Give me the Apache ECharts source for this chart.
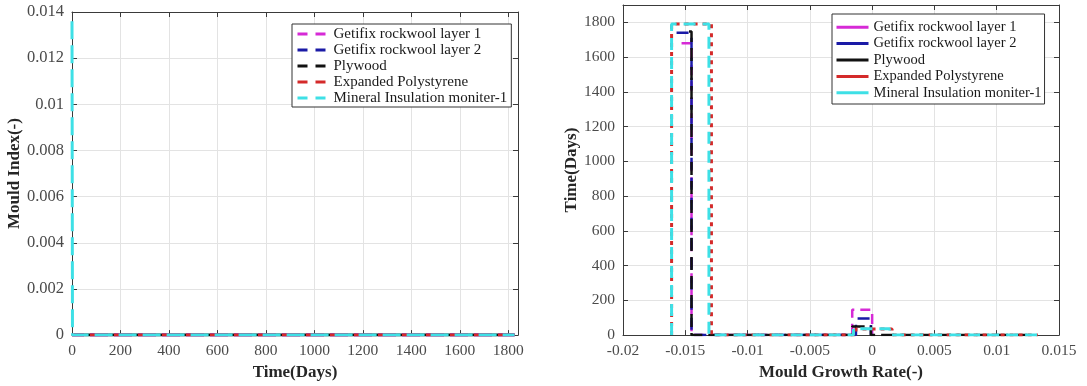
<!DOCTYPE html>
<html>
<head>
<meta charset="utf-8">
<script src="https://cdn.jsdelivr.net/npm/echarts@6/dist/echarts.min.js"></script>
<style>
  html, body { margin: 0; padding: 0; background: #fff; }
  #chart { width: 1087px; height: 386px; }
</style>
</head>
<body>
<div id="chart"></div>
<script>
// Series names shared by both panels
const seriesNames = [
  'Getifix rockwool layer 1',
  'Getifix rockwool layer 2',
  'Plywood',
  'Expanded Polystyrene',
  'Mineral Insulation moniter-1'
];
const seriesColors = ['#d62ad6', '#1a1aa6', '#111111', '#d42a2a', '#3ee0e6'];

// Left panel: mould index over time (days)
const timeMouldGetifix1 = [[0, 0], [1826, 0]];
const timeMouldGetifix2 = [[0, 0], [1826, 0]];
const timeMouldPlywood  = [[0, 0], [1826, 0]];
const timeMouldEPS      = [[0, 0], [1826, 0]];
const timeMouldMineral  = [[0, 0.0136], [2, 0], [1826, 0]];

// Right panel: number of days per mould-growth-rate bin (bin edges + day counts)
const edgesGetifix1 = [-0.0153, -0.0145, -0.0016, 0.0000];
const daysGetifix1  = [1680, 0, 146];
const edgesGetifix2 = [-0.0157, -0.0145, -0.0013, -0.0001];
const daysGetifix2  = [1740, 0, 96];
const edgesPlywood  = [-0.0147, -0.0145, -0.0016, -0.0001, 0.0127];
const daysPlywood   = [1748, 0, 50, 1];
const edgesEPS      = [-0.0161, -0.0129, -0.0100, -0.0071, -0.0042, -0.0013, 0.0016, 0.0045,
                       0.0074, 0.0103, 0.0133];
const daysEPS       = [1790, 0, 0, 0, 0, 35, 1, 0, 0, 0];
const edgesMineral  = [-0.0161, -0.0131, -0.0102, -0.0073, -0.0044, -0.0015, 0.0014, 0.0044,
                       0.0074, 0.0104, 0.0133];
const daysMineral   = [1790, 0, 0, 0, 0, 36, 0, 0, 0, 0];

// Axis tick settings
const leftXTicks  = { min: 0, max: 1840, interval: 200 };
const leftYTicks  = { min: 0, max: 0.014, interval: 0.002 };
const rightXTicks = { min: -0.02, max: 0.015, interval: 0.005 };
const rightYTicks = { min: 0, max: 1900, interval: 200 };

// Outline of a histogram drawn as stairs; closeLeft adds the rising edge of the first bin
function stairs(edges, counts, closeLeft) {
  const pts = closeLeft ? [[edges[0], 0]] : [];
  for (let i = 0; i < counts.length; i++) {
    pts.push([edges[i], counts[i]]);
    pts.push([edges[i + 1], counts[i]]);
  }
  pts.push([edges[counts.length], 0]);
  return pts;
}

const serif = 'Liberation Serif';
const tickFmt = v => String(+v.toFixed(4));

function mainAxis(ticks, pos, gridIndex, name, nameGap, showMax, labelSize) {
  return {
    type: 'value', gridIndex, position: pos,
    min: ticks.min, max: ticks.max, interval: ticks.interval,
    name, nameLocation: 'middle', nameGap,
    nameTextStyle: { fontFamily: serif, fontWeight: 'bold', fontSize: 17, color: '#262626' },
    axisLine: { show: true, onZero: false, lineStyle: { color: '#3a3a3a', width: 1 } },
    axisTick: { show: true, inside: true, length: 5, lineStyle: { color: '#3a3a3a' } },
    axisLabel: { fontFamily: serif, fontSize: labelSize || 15.5, color: '#4a4a4a', margin: 8,
                 showMaxLabel: showMax, formatter: tickFmt },
    splitLine: { show: true, lineStyle: { color: '#e3e3e3', width: 1 } }
  };
}

function mirrorAxis(ticks, pos, gridIndex) {
  return {
    type: 'value', gridIndex, position: pos,
    min: ticks.min, max: ticks.max, interval: ticks.interval,
    axisLine: { show: true, onZero: false, lineStyle: { color: '#3a3a3a', width: 1 } },
    axisTick: { show: true, inside: true, length: 5, lineStyle: { color: '#3a3a3a' } },
    axisLabel: { show: false },
    splitLine: { show: false }
  };
}

const leftData = [timeMouldGetifix1, timeMouldGetifix2, timeMouldPlywood, timeMouldEPS, timeMouldMineral];
const leftDash = [
  { type: [18, 6], dashOffset: 6 },
  { type: [18, 6], dashOffset: 6 },
  { type: [6, 18], dashOffset: 12 },
  { type: [18, 6], dashOffset: 6 },
  { type: [18, 6], dashOffset: 0 }
];

const rightData = [
  stairs(edgesGetifix1, daysGetifix1, false),
  stairs(edgesGetifix2, daysGetifix2, false),
  stairs(edgesPlywood, daysPlywood, false),
  stairs(edgesEPS, daysEPS, true),
  stairs(edgesMineral, daysMineral, true)
];
const rightDash = [
  { type: [10, 6], width: 2.5 },
  { type: [12, 8], width: 2.5 },
  { type: [13, 6], width: 2.5 },
  { type: [4, 5], width: 3 },
  { type: [12, 7], width: 3 }
];

const series = [];
seriesNames.forEach((name, i) => {
  series.push({
    type: 'line', name, xAxisIndex: 0, yAxisIndex: 0,
    data: leftData[i], symbol: 'none', showSymbol: false,
    lineStyle: { color: seriesColors[i], width: 3, type: leftDash[i].type, dashOffset: leftDash[i].dashOffset },
    itemStyle: { color: seriesColors[i] },
    animation: false, silent: true
  });
});
seriesNames.forEach((name, i) => {
  series.push({
    type: 'line', name, xAxisIndex: 1, yAxisIndex: 1,
    data: rightData[i], symbol: 'none', showSymbol: false,
    lineStyle: { color: seriesColors[i], width: rightDash[i].width, type: rightDash[i].type },
    itemStyle: { color: seriesColors[i] },
    animation: false, silent: true
  });
});

const legendBase = {
  orient: 'vertical', data: seriesNames, selectedMode: false,
  itemGap: 0, itemHeight: 14,
  backgroundColor: '#ffffff', borderColor: '#333', borderWidth: 1, borderRadius: 0,
  textStyle: { fontFamily: serif, fontSize: 15, lineHeight: 16, color: '#1a1a1a' },
  itemStyle: { opacity: 0 }
};

const option = {
  animation: false,
  backgroundColor: '#ffffff',
  grid: [
    { left: 72, top: 12, width: 446, height: 327 },
    { left: 623, top: 5, width: 436, height: 334 }
  ],
  xAxis: [
    mainAxis(leftXTicks, 'bottom', 0, 'Time(Days)', 24, false),
    mainAxis(rightXTicks, 'bottom', 1, 'Mould Growth Rate(-)', 24, true),
    mirrorAxis(leftXTicks, 'top', 0),
    mirrorAxis(rightXTicks, 'top', 1)
  ],
  yAxis: [
    mainAxis(leftYTicks, 'left', 0, 'Mould Index(-)', 43, true, 16.5),
    mainAxis(rightYTicks, 'left', 1, 'Time(Days)', 42, false),
    mirrorAxis(leftYTicks, 'right', 0),
    mirrorAxis(rightYTicks, 'right', 1)
  ],
  legend: [
    Object.assign({}, legendBase, {
      left: 292, top: 24, padding: [2, 4, 1, 4], itemWidth: 31,
      lineStyle: { type: [10, 8], width: 3, dashOffset: 0 }
    }),
    Object.assign({}, legendBase, {
      left: 832, top: 14, padding: [5, 3, 3, 3], itemWidth: 32,
      textStyle: { fontFamily: serif, fontSize: 14.5, lineHeight: 16.4, color: '#1a1a1a' },
      lineStyle: { type: 'solid', width: 3 }
    })
  ],
  series
};

const chart = echarts.init(document.getElementById('chart'), null, { renderer: 'canvas' });
chart.setOption(option);
</script>
</body>
</html>
